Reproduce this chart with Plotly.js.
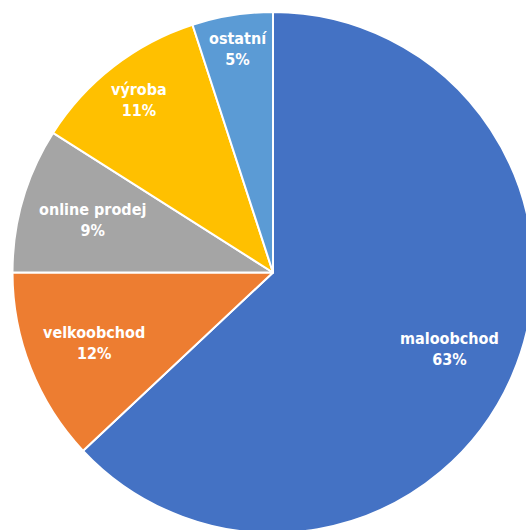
<!DOCTYPE html>
<html>
<head>
<meta charset="utf-8">
<script src="https://cdn.plot.ly/plotly-3.0.1.min.js"></script>
<style>
html,body{margin:0;padding:0;overflow:hidden;background:#fff;width:526px;height:530px;}
#chart{width:546px;height:546px;}
</style>
</head>
<body>
<div id="chart"></div>
<script>
const categories = ["maloobchod", "velkoobchod", "online prodej", "výroba", "ostatní"];
const values = [63, 12, 9, 11, 5];
const colors = ["#4472C4", "#ED7D31", "#A5A5A5", "#FFC000", "#5B9BD5"];

// label placement (fraction of radius), layout only
const labelRadius = [0.74, 0.74, 0.72, 0.84, 0.87];

const W = 546, H = 546;
const M = {l: 12, r: 12, t: 12, b: 13};
const plotW = W - M.l - M.r, plotH = H - M.t - M.b;
const R = Math.min(plotW, plotH) / 2;
const total = values.reduce((a, b) => a + b, 0);

const annotations = [];
let cum = 0;
values.forEach((v, i) => {
  const mid = (cum + v / 2) / total * 2 * Math.PI;
  cum += v;
  const r = labelRadius[i] * R;
  const px = Math.sin(mid) * r;
  const py = Math.cos(mid) * r;
  annotations.push({
    xref: "paper", yref: "paper",
    x: 0.5 + px / plotW, y: 0.5 + py / plotH,
    xanchor: "center", yanchor: "middle",
    showarrow: false,
    text: categories[i] + "<br>" + Math.round(v / total * 100) + "%",
    font: {family: "DejaVu Sans Condensed, DejaVu Sans", size: 16, color: "#ffffff", weight: "bold"},
    align: "center"
  });
});

const trace = {
  type: "pie",
  labels: categories,
  values: values,
  sort: false,
  direction: "clockwise",
  rotation: 0,
  marker: {colors: colors, line: {color: "#ffffff", width: 2}},
  textinfo: "none",
  hoverinfo: "label+percent"
};

const layout = {
  width: W,
  height: H,
  margin: M,
  showlegend: false,
  paper_bgcolor: "#ffffff",
  annotations: annotations
};

Plotly.newPlot("chart", [trace], layout, {displayModeBar: false, staticPlot: true});
</script>
</body>
</html>
